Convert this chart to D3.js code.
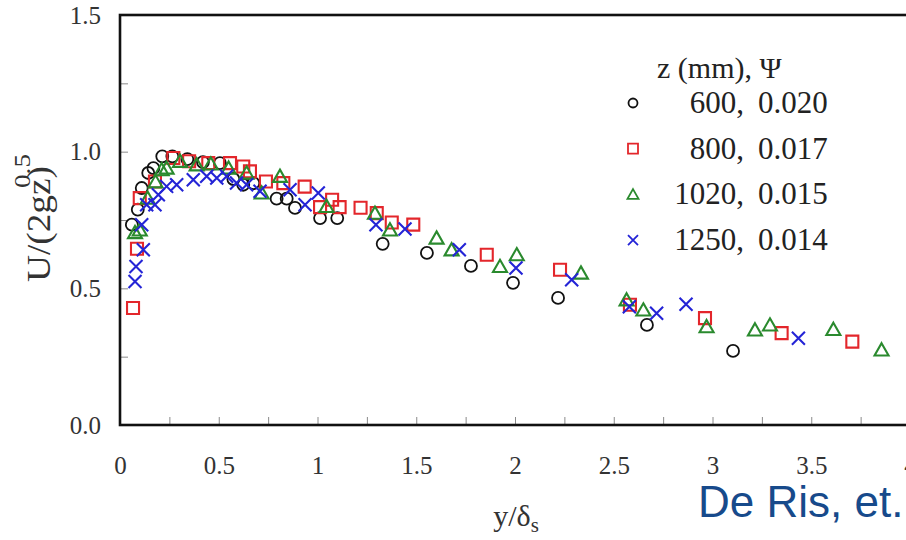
<!DOCTYPE html>
<html>
<head>
<meta charset="utf-8">
<script src="https://cdn.jsdelivr.net/npm/d3@7"></script>
<style>
  html, body { margin: 0; padding: 0; background: #fff; overflow: hidden; }
  svg { display: block; }
</style>
</head>
<body>
<div id="chart"></div>
<script>
// values: [y/delta_s, U/(2gz)^0.5]
const z600 = [[0.06,0.733],[0.09,0.788],[0.11,0.867],[0.143,0.922],[0.169,0.94],[0.214,0.983],[0.265,0.983],
  [0.341,0.973],[0.42,0.962],[0.506,0.958],[0.574,0.9],[0.624,0.879],[0.675,0.885],[0.793,0.828],[0.844,0.828],
  [0.886,0.794],[1.013,0.757],[1.1,0.757],[1.33,0.663],[1.554,0.63],[1.777,0.582],[1.99,0.52],[2.218,0.465],
  [2.668,0.366],[3.104,0.271]];
const z800 = [[0.066,0.428],[0.086,0.645],[0.1,0.83],[0.177,0.891],[0.27,0.977],[0.35,0.965],[0.447,0.958],
  [0.557,0.958],[0.624,0.946],[0.658,0.928],[0.739,0.891],[0.827,0.885],[0.935,0.872],[1.013,0.797],[1.074,0.824],
  [1.112,0.797],[1.218,0.795],[1.3,0.775],[1.376,0.741],[1.485,0.733],[1.857,0.623],[2.228,0.568],[2.582,0.44],
  [2.962,0.391],[3.35,0.336],[3.708,0.305]];
const z1020 = [[0.076,0.704],[0.1,0.714],[0.14,0.83],[0.18,0.89],[0.211,0.934],[0.236,0.94],[0.304,0.965],
  [0.388,0.952],[0.46,0.955],[0.55,0.94],[0.641,0.922],[0.717,0.849],[0.81,0.91],[1.046,0.8],[1.291,0.775],
  [1.367,0.714],[1.603,0.684],[1.679,0.641],[1.924,0.58],[2.009,0.623],[2.334,0.556],[2.565,0.458],[2.65,0.421],
  [2.97,0.36],[3.215,0.348],[3.291,0.366],[3.612,0.35],[3.856,0.275]];
const z1250 = [[0.076,0.525],[0.081,0.58],[0.118,0.641],[0.11,0.733],[0.135,0.806],[0.177,0.806],[0.194,0.842],
  [0.236,0.873],[0.287,0.879],[0.371,0.897],[0.439,0.91],[0.49,0.904],[0.54,0.91],[0.59,0.885],[0.641,0.879],
  [0.709,0.855],[0.861,0.861],[0.937,0.806],[1.004,0.849],[1.296,0.733],[1.443,0.717],[1.718,0.641],[2.005,0.574],
  [2.287,0.531],[2.579,0.433],[2.717,0.409],[2.866,0.442],[3.435,0.317]];

const seriesNames = ["600", "800", "1020", "1250"];
const psiLabels = ["0.020", "0.017", "0.015", "0.014"];
const xTicks = [0, 0.25, 0.5, 0.75, 1, 1.25, 1.5, 1.75, 2, 2.25, 2.5, 2.75, 3, 3.25, 3.5, 3.75, 4];
const yTicks = [0, 0.25, 0.5, 0.75, 1, 1.25, 1.5];

const W = 906, H = 540;
const serif = "'Liberation Serif', 'Times New Roman', serif";

const series = [
  { name: seriesNames[0], psi: psiLabels[0], data: z600, shape: "circle", color: "#111111" },
  { name: seriesNames[1], psi: psiLabels[1], data: z800, shape: "square", color: "#e3262b" },
  { name: seriesNames[2], psi: psiLabels[2], data: z1020, shape: "triangle", color: "#2a8a2e" },
  { name: seriesNames[3], psi: psiLabels[3], data: z1250, shape: "cross", color: "#2424d6" }
];

const x = d3.scaleLinear().domain([0, 4]).range([120, 910]);
const y = d3.scaleLinear().domain([0, 1.5]).range([425, 15]);

const svg = d3.select("#chart").append("svg")
  .attr("width", W).attr("height", H);

// marker outlines, s = full width
function markerPath(shape, s) {
  const h = s / 2;
  if (shape === "square") return `M${-h},${-h}H${h}V${h}H${-h}Z`;
  if (shape === "triangle") return `M0,${-h * 0.95}L${h},${h * 0.8}L${-h},${h * 0.8}Z`;
  if (shape === "cross") return `M${-h},${-h}L${h},${h}M${h},${-h}L${-h},${h}`;
  const p = d3.path();
  p.arc(0, 0, h, 0, 2 * Math.PI);
  return p.toString();
}

// axes: ticks point inward
const xAxis = d3.axisBottom(x)
  .tickValues(xTicks)
  .tickSize(-8)
  .tickPadding(31)
  .tickFormat(d => (d * 2) % 1 === 0 ? d3.format("")(d) : "");

const yAxis = d3.axisLeft(y)
  .tickValues(yTicks)
  .tickSize(-8)
  .tickPadding(19)
  .tickFormat(d => (d * 2) % 1 === 0 ? d3.format(".1f")(d) : "");

const gx = svg.append("g").attr("transform", `translate(0,${y(0)})`).call(xAxis);
const gy = svg.append("g").attr("transform", `translate(${x(0)},0)`).call(yAxis);

[gx, gy].forEach(g => {
  g.select(".domain").remove();
  g.selectAll(".tick line").attr("stroke", "#8a8a8a").attr("stroke-width", 1);
  g.selectAll(".tick text")
    .attr("fill", "#333")
    .style("font-family", serif)
    .style("font-size", "25px");
});

// frame (right side falls outside the picture)
svg.append("rect")
  .attr("x", x(0)).attr("y", y(1.5))
  .attr("width", x(4) - x(0)).attr("height", y(0) - y(1.5))
  .attr("fill", "none").attr("stroke", "#111").attr("stroke-width", 2.6);

// points
const sizes = { circle: 12, square: 12, triangle: 14, cross: 13 };
series.forEach(s => {
  svg.append("g").selectAll("path")
    .data(s.data)
    .enter()
    .append("path")
    .attr("transform", d => `translate(${x(d[0])},${y(d[1])})`)
    .attr("d", markerPath(s.shape, sizes[s.shape]))
    .attr("fill", "none")
    .attr("stroke", s.color)
    .attr("stroke-width", s.shape === "circle" ? 1.8 : 2.1);
});

// legend
const legend = svg.append("g").style("font-family", serif).attr("fill", "#222");
legend.append("text")
  .attr("x", 657).attr("y", 78)
  .style("font-size", "30px")
  .text("z (mm),  \u03A8");

const legendSizes = { circle: 9, square: 10, triangle: 11, cross: 10 };
series.forEach((s, i) => {
  const base = 113 + i * 45.7;
  legend.append("path")
    .attr("transform", `translate(633,${base - 10})`)
    .attr("d", markerPath(s.shape, legendSizes[s.shape]))
    .attr("fill", "none")
    .attr("stroke", s.color)
    .attr("stroke-width", 1.8);
  legend.append("text")
    .attr("x", 744).attr("y", base)
    .attr("text-anchor", "end")
    .style("font-size", "31px")
    .text(s.name + ",");
  legend.append("text")
    .attr("x", 758).attr("y", base)
    .style("font-size", "31px")
    .text(s.psi);
});

// axis titles
const yl = svg.append("text")
  .attr("transform", "translate(50,282) rotate(-90)")
  .attr("fill", "#333")
  .style("font-family", serif)
  .style("font-size", "34px");
yl.append("tspan").attr("textLength", 116).attr("lengthAdjust", "spacingAndGlyphs").text("U/(2gz)");
yl.append("tspan").attr("dx", -22).attr("dy", -20)
  .attr("textLength", 34).attr("lengthAdjust", "spacingAndGlyphs")
  .style("font-size", "23px").text("0.5");

const xl = svg.append("text")
  .attr("x", 516).attr("y", 526)
  .attr("text-anchor", "middle")
  .attr("fill", "#333")
  .style("font-family", serif)
  .style("font-size", "30px");
xl.append("tspan").text("y/\u03B4");
xl.append("tspan").attr("dy", 6).style("font-size", "21px").text("s");

// source note
svg.append("text")
  .attr("x", 698).attr("y", 517)
  .attr("fill", "#174a8b")
  .style("font-family", "'Liberation Sans', Arial, sans-serif")
  .style("font-size", "44px")
  .text("De Ris, et.");
</script>
</body>
</html>
